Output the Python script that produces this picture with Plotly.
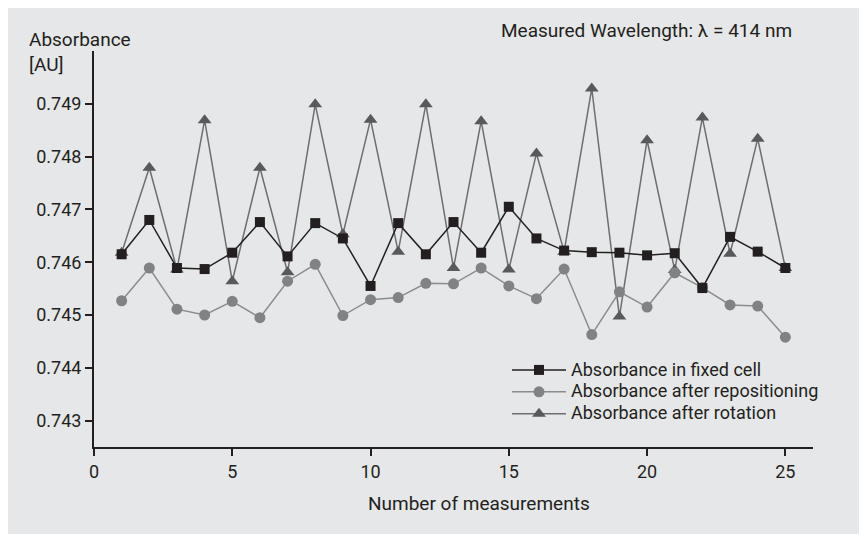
import plotly.graph_objects as go

measurements = list(range(1, 26))
fixed_cell = [0.74615, 0.74680, 0.74589, 0.74587, 0.74618, 0.74676, 0.74611, 0.74674, 0.74645,
              0.74555, 0.74674, 0.74615, 0.74676, 0.74618, 0.74705, 0.74645, 0.74622, 0.74619,
              0.74618, 0.74613, 0.74617, 0.74551, 0.74648, 0.74620, 0.74589]
repositioning = [0.74527, 0.74589, 0.74511, 0.74500, 0.74526, 0.74495, 0.74564, 0.74596, 0.74499,
                 0.74529, 0.74533, 0.74560, 0.74559, 0.74589, 0.74555, 0.74531, 0.74587, 0.74463,
                 0.74544, 0.74515, 0.74580, 0.74552, 0.74519, 0.74517, 0.74458]
rotation = [0.74618, 0.74779, 0.74586, 0.74869, 0.74564, 0.74779, 0.74581, 0.74899, 0.74653,
            0.74870, 0.74620, 0.74899, 0.74589, 0.74867, 0.74586, 0.74806, 0.74620, 0.74929,
            0.74497, 0.74831, 0.74585, 0.74874, 0.74616, 0.74834, 0.74589]
x_ticks = [0, 5, 10, 15, 20, 25]
y_ticks = [0.743, 0.744, 0.745, 0.746, 0.747, 0.748, 0.749]
y_ticklabels = ["0.743", "0.744", "0.745", "0.746", "0.747", "0.748", "0.749"]

W, H = 867, 534
L, R, T, B = 86, 62, 43, 95
FONT = "Roboto, Liberation Sans, Arial, sans-serif"
TXT = "#231f20"
BG = "#e6e7e8"
pw, ph = W - L - R, H - T - B


def px2paper(px, py):
    return (px - L) / pw, (H - B - py) / ph


def big(s):
    return '<span style="font-size:18px">' + s + '</span>'


fig = go.Figure()
fig.add_trace(go.Scatter(x=measurements, y=rotation, name=big("Absorbance after rotation"),
                         mode="lines+markers",
                         line=dict(color="#6d6e71", width=1.5),
                         marker=dict(symbol="triangle-up", size=12, color="#58595b")))
fig.add_trace(go.Scatter(x=measurements, y=repositioning, name=big("Absorbance after repositioning"),
                         mode="lines+markers",
                         line=dict(color="#8c8c8c", width=1.5),
                         marker=dict(symbol="circle", size=11, color="#808285")))
fig.add_trace(go.Scatter(x=measurements, y=fixed_cell, name=big("Absorbance in fixed cell"),
                         mode="lines+markers",
                         line=dict(color="#231f20", width=1.5),
                         marker=dict(symbol="square", size=10, color="#231f20")))

for label, cy in (("Absorbance", 31), ("[AU]", 56)):
    ax, ay = px2paper(19, cy)
    fig.add_annotation(xref="paper", yref="paper", x=ax, y=ay, xanchor="left", yanchor="middle",
                       text=label, showarrow=False, align="left",
                       font=dict(family=FONT, size=19, color=TXT))

bx, by = px2paper(786, 22)
fig.add_annotation(xref="paper", yref="paper", x=bx, y=by, xanchor="right", yanchor="middle",
                   text="Measured Wavelength: λ = 414 nm", showarrow=False,
                   font=dict(family=FONT, size=19, color=TXT))

tx, ty = px2paper(471, 495)
fig.add_annotation(xref="paper", yref="paper", x=tx, y=ty, xanchor="center", yanchor="middle",
                   text="Number of measurements", showarrow=False,
                   font=dict(family=FONT, size=19, color=TXT))

lx, ly = px2paper(499, 346)
fig.update_layout(
    width=W, height=H,
    margin=dict(l=L, r=R, t=T, b=B),
    paper_bgcolor=BG, plot_bgcolor=BG,
    font=dict(family=FONT, size=18, color=TXT),
    legend=dict(x=lx, y=ly, xanchor="left", yanchor="top", traceorder="reversed",
                bgcolor="rgba(0,0,0,0)", font=dict(family=FONT, size=14.5, color=TXT),
                itemwidth=54, tracegroupgap=0),
    xaxis=dict(range=[0, 26], tickvals=x_ticks, showgrid=False, zeroline=False,
               showline=True, linecolor=TXT, linewidth=2,
               ticks="outside", ticklen=7, tickcolor=TXT, tickwidth=1.5,
               tickfont=dict(size=18)),
    yaxis=dict(range=[0.7425, 0.750], tickvals=y_ticks, ticktext=y_ticklabels,
               showgrid=False, zeroline=False,
               showline=True, linecolor=TXT, linewidth=2,
               ticks="outside", ticklen=7, tickcolor=TXT, tickwidth=1.5,
               tickfont=dict(size=18)),
    showlegend=True,
)

fig.write_html("out.html")
